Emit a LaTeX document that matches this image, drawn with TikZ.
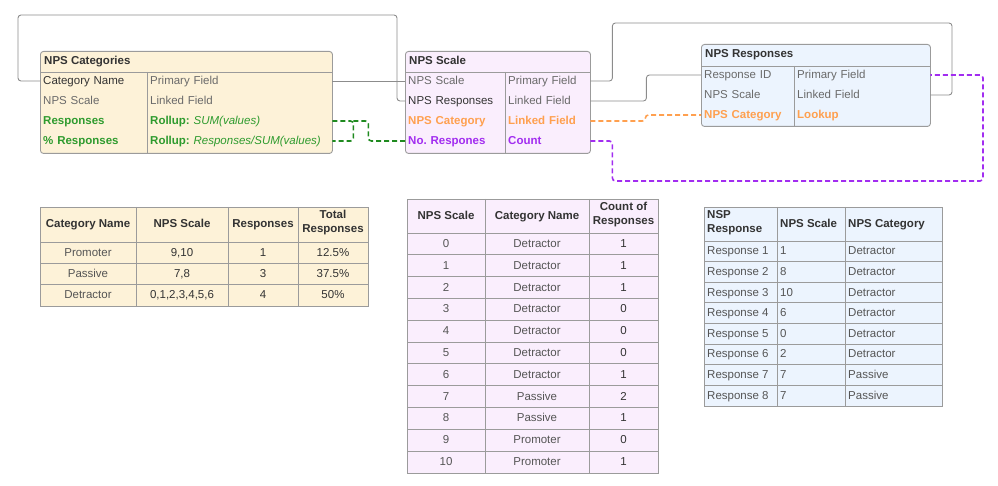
\documentclass[tikz,border=0pt]{standalone}
\usepackage{fontspec}
\setmainfont{Liberation Sans}
\usetikzlibrary{calc}
\definecolor{pcream}{HTML}{FDF2D8}
\definecolor{plav}{HTML}{FAEEFD}
\definecolor{pblue}{HTML}{ECF4FE}
\definecolor{bordg}{HTML}{9B9B9B}
\definecolor{wireg}{HTML}{8C8C8C}
\definecolor{txtd}{HTML}{333333}
\definecolor{txtg}{HTML}{6A6A6A}
\definecolor{txtb}{HTML}{555555}
\definecolor{grn}{HTML}{2E9B2E}
\definecolor{grnd}{HTML}{1F8A1F}
\definecolor{orng}{HTML}{FFA04F}
\definecolor{purp}{HTML}{A22DF0}
\newcommand{\fs}{\fontsize{11.5}{14}\selectfont\frenchspacing}
\tikzset{
  % entity card: pastel fill, grey rim
  ent/.style   = {rectangle, rounded corners=3pt, draw=bordg, fill=#1, line width=0.9pt,
                  anchor=north west, inner sep=0pt},
  ttl/.style   = {font=\fs\bfseries, text=txtd, anchor=west, inner sep=0pt,
                  text height=9pt, text depth=2pt},
  fld/.style   = {font=\fs, text=txtg, anchor=west, inner xsep=3pt, inner ysep=0pt,
                  minimum height=20pt, text width=#1, text height=9pt, text depth=2pt},
  wire/.style  = {draw=wireg, line width=0.9pt, rounded corners=3pt},
  dwire/.style = {draw=#1, line width=1.6pt, rounded corners=3pt, dash pattern=on 5pt off 3pt},
  grid/.style  = {draw=bordg, line width=0.9pt},
  hd/.style    = {font=\fs\bfseries, text=txtd, align=center, inner sep=0pt},
  hd1/.style   = {hd, text height=9pt, text depth=2pt},
  cl/.style    = {font=\fs, text=txtb, inner sep=0pt, text height=9pt, text depth=2pt},
}

\begin{document}
\begin{tikzpicture}[x=1pt,y=-1pt]
\useasboundingbox (0,0) rectangle (998,486);
% NPS Categories card
\node[ent=pcream, minimum width=292, minimum height=102] (cat) at (40,51) {};
\draw[grid] (40,72) -- (332,72) (147,72) -- (147,153);
\node[ttl] (catt) at (44,61.5) {NPS Categories};
\node[fld=101pt, text=txtd] (c1) at (40,81) {Category Name};
\node[fld=179pt] (c1v) at (147,81) {Primary Field};
\node[fld=101pt] (c2) at (40,101) {NPS Scale};
\node[fld=179pt] (c2v) at (147,101) {Linked Field};
\node[fld=101pt, text=grn, font=\fs\bfseries] (c3) at (40,121) {Responses};
\node[fld=179pt, text=grn] (c3v) at (147,121) {\textbf{Rollup:} \textit{SUM(values)}};
\node[fld=101pt, text=grn, font=\fs\bfseries] (c4) at (40,141) {\% Responses};
\node[fld=179pt, text=grn] (c4v) at (147,141) {\textbf{Rollup:} \textit{Responses/SUM(values)}};
% NPS Scale card
\node[ent=plav, minimum width=185, minimum height=102] (scl) at (405,51) {};
\draw[grid] (405,72) -- (590,72) (505,72) -- (505,153);
\node[ttl] (sclt) at (409,61.5) {NPS Scale};
\node[fld=94pt] (s1) at (405,81) {NPS Scale};
\node[fld=79pt] (s1v) at (505,81) {Primary Field};
\node[fld=94pt, text=txtd] (s2) at (405,101) {NPS Responses};
\node[fld=79pt] (s2v) at (505,101) {Linked Field};
\node[fld=94pt, text=orng, font=\fs\bfseries] (s3) at (405,121) {NPS Category};
\node[fld=79pt, text=orng, font=\fs\bfseries] (s3v) at (505,121) {Linked Field};
\node[fld=94pt, text=purp, font=\fs\bfseries] (s4) at (405,141) {No. Respones};
\node[fld=79pt, text=purp, font=\fs\bfseries] (s4v) at (505,141) {Count};
% NPS Responses card
\node[ent=pblue, minimum width=229, minimum height=82] (rsp) at (701,44) {};
\draw[grid] (701,66) -- (930,66) (794,66) -- (794,126);
\node[ttl] (rspt) at (705,54.5) {NPS Responses};
\node[fld=87pt] (r1) at (701,75) {Response ID};
\node[fld=130pt] (r1v) at (794,75) {Primary Field};
\node[fld=87pt] (r2) at (701,95) {NPS Scale};
\node[fld=130pt] (r2v) at (794,95) {Linked Field};
\node[fld=87pt, text=orng, font=\fs\bfseries] (r3) at (701,115) {NPS Category};
\node[fld=130pt, text=orng, font=\fs\bfseries] (r3v) at (794,115) {Lookup};
% links
\draw[wire] (c1.west) -- ++(-22,0) |- (397,15) |- (s2.west);
\draw[wire] (c1v.east) -- (s1.west);
\draw[wire] (s1v.east) -- ++(22,0) |- (952,23) |- (r2v.east);
\draw[wire] (s2v.east) -- ++(56,0) |- (r1.west);
\draw[dwire=orng] (s3v.east) -- ++(55,0) |- (r3.west);
\draw[dwire=purp] (s4v.east) -- ++(22,0) |- (983,181) |- (r1v.east);
\draw[dwire=grnd] (c3v.east) -- ++(21,0) coordinate (gj) |- (c4v.east);
\draw[dwire=grnd] (gj) -- ++(15,0) |- (s4.west);
% table: categories
\fill[pcream] (40,207) rectangle (368,306);
\draw[grid] (40,207) rectangle (368,306);
\foreach \x in {136,228,298} \draw[grid] (\x,207) -- (\x,306);
\foreach \i in {0,1,2} \draw[grid] (40,242+21.33*\i) -- (368,242+21.33*\i);
\node[hd1] (t1h1) at (88,224.5) {Category Name};
\node[hd1] (t1h2) at (182,224.5) {NPS Scale};
\node[hd1] (t1h3) at (263,224.5) {Responses};
\node[hd] (t1h4) at (333,223) {Total\\Responses};
\foreach \c/\s/\n/\p [count=\i] in {Promoter/{9,10}/1/12.5\%, Passive/{7,8}/3/37.5\%,
    Detractor/{0,1,2,3,4,5,6}/4/50\%} {
  \node[cl] (t1-\i-a) at (88,242+21.33*\i-10.67) {\c};
  \node[cl, text=txtd] (t1-\i-b) at (182,242+21.33*\i-10.67) {\s};
  \node[cl, text=txtd] (t1-\i-c) at (263,242+21.33*\i-10.67) {\n};
  \node[cl, text=txtd] (t1-\i-d) at (333,242+21.33*\i-10.67) {\p};
}
% table: scale
\fill[plav] (407,199) rectangle (658,473);
\draw[grid] (407,199) rectangle (658,473);
\foreach \x in {485,589} \draw[grid] (\x,199) -- (\x,473);
\foreach \i in {0,...,10} \draw[grid] (407,233+21.818*\i) -- (658,233+21.818*\i);
\node[hd1] (t2h1) at (446,216) {NPS Scale};
\node[hd1] (t2h2) at (537,216) {Category Name};
\node[hd] (t2h3) at (623.5,214.5) {Count of\\Responses};
\foreach \s/\c/\n [count=\i] in {0/Detractor/1, 1/Detractor/1, 2/Detractor/1, 3/Detractor/0,
    4/Detractor/0, 5/Detractor/0, 6/Detractor/1, 7/Passive/2, 8/Passive/1, 9/Promoter/0,
    10/Promoter/1} {
  \node[cl] (t2-\i-a) at (446,233+21.818*\i-10.9) {\s};
  \node[cl] (t2-\i-b) at (537,233+21.818*\i-10.9) {\c};
  \node[cl, text=txtd] (t2-\i-c) at (623.5,233+21.818*\i-10.9) {\n};
}
% table: responses
\fill[pblue] (704,207) rectangle (942,406);
\draw[grid] (704,207) rectangle (942,406);
\foreach \x in {777,845} \draw[grid] (\x,207) -- (\x,406);
\foreach \i in {0,...,7} \draw[grid] (704,241+20.625*\i) -- (942,241+20.625*\i);
\node[hd, align=left, anchor=west] (t3h1) at (707,223) {NSP\\Response};
\node[hd1, anchor=west] (t3h2) at (780,224) {NPS Scale};
\node[hd1, anchor=west] (t3h3) at (848,224) {NPS Category};
\foreach \r/\s/\c [count=\i] in {1/1/Detractor, 2/8/Detractor, 3/10/Detractor, 4/6/Detractor,
    5/0/Detractor, 6/2/Detractor, 7/7/Passive, 8/7/Passive} {
  \node[cl, anchor=west] (t3-\i-a) at (707,241+20.625*\i-10.3) {Response \r};
  \node[cl, anchor=west] (t3-\i-b) at (780,241+20.625*\i-10.3) {\s};
  \node[cl, anchor=west] (t3-\i-c) at (848,241+20.625*\i-10.3) {\c};
}
\end{tikzpicture}
\end{document}
